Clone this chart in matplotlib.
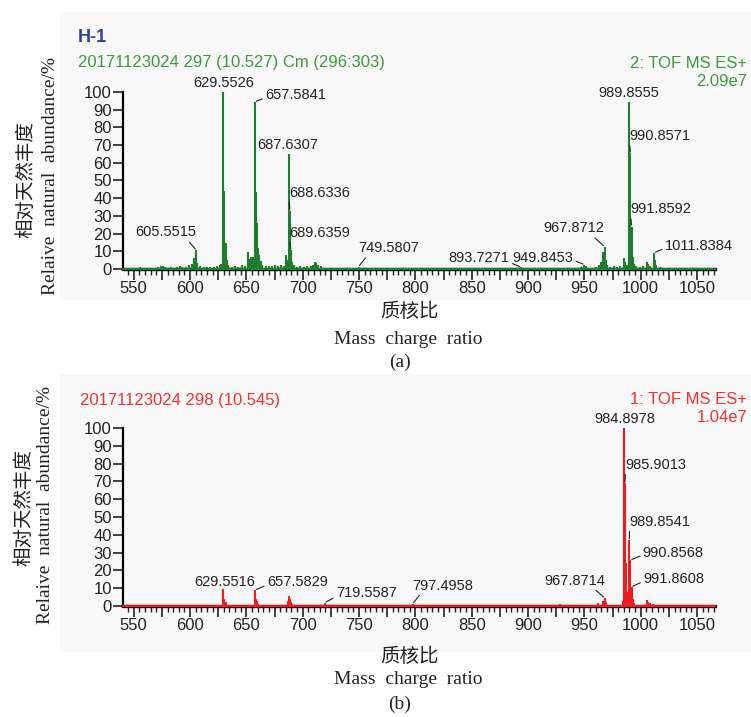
import matplotlib
matplotlib.use("Agg")
import matplotlib.pyplot as plt
from matplotlib.patches import Rectangle
from matplotlib.ticker import MultipleLocator
import numpy as np

# ---------------- data ----------------
top_mz = [553, 556, 561, 566, 572, 574, 576, 578, 583, 588, 591, 593, 596, 599,
          601.5, 603.6, 605.55, 606.55, 609, 612, 615, 618, 621, 624, 626.5, 627.5,
          629.55, 630.55, 631.55, 632.55, 634, 637, 640, 643, 646, 649,
          651.2, 652.5, 654.5, 656.0, 657.58, 658.58, 659.6, 660.6, 661.6, 662.6,
          664, 667, 670, 673, 675, 678, 681, 683, 685.6, 686.6, 687.63, 688.63,
          689.64, 690.64, 692, 695, 698, 701, 704, 707, 709, 711, 712, 714, 716,
          720, 726, 735, 749.58, 760, 780, 800, 830, 860, 893.73, 910, 925, 940,
          947, 949.85, 951, 955, 960, 963, 965, 966.87, 967.87, 968.87, 970, 973,
          976, 979, 982, 984.9, 985.9, 987.5, 989.86, 990.86, 991.86, 992.86,
          993.9, 996, 999, 1002, 1005.3, 1006.3, 1008, 1011.84, 1012.84, 1013.84,
          1017, 1022, 1030]
top_int = [0.8, 1.2, 0.8, 0.7, 1.4, 1.7, 1.5, 1.3, 0.9, 1.2, 1.6, 1.4, 1.0, 2.0,
           2.8, 6.0, 10.7, 3.5, 1.5, 1.2, 1.0, 1.3, 1.1, 1.5, 2.5, 3.0,
           100, 44.2, 14.5, 5.0, 2.0, 1.2, 1.5, 1.3, 2.0, 1.5,
           9.8, 5.5, 7.0, 6.5, 94.5, 43.7, 25.8, 11.7, 8.0, 4.5,
           2.5, 1.6, 1.8, 1.5, 2.0, 1.6, 2.2, 1.8, 7.9, 5.0, 65, 33,
           10.7, 4.0, 2.0, 1.4, 1.6, 1.2, 1.5, 1.8, 2.5, 4.0, 3.2, 2.0, 1.5,
           0.8, 0.6, 0.5, 1.3, 0.4, 0.4, 0.3, 0.4, 0.3, 1.0, 0.4, 0.6, 0.8,
           1.2, 2.5, 1.5, 0.8, 1.2, 2.0, 4.0, 9.8, 12.6, 5.0, 2.0, 1.2,
           1.5, 1.3, 1.6, 6.0, 4.0, 2.0, 94.5, 65.4, 24.0, 7.0,
           3.0, 1.5, 1.2, 1.5, 4.0, 3.0, 1.5, 9.2, 5.0, 2.0,
           1.0, 0.8, 0.5]

bot_mz = [560, 600, 620, 629.55, 630.55, 631.55, 640, 657.58, 658.58, 659.6, 660.6,
          686.6, 687.6, 688.6, 689.6, 690.6, 700, 719.56, 740, 797.50, 850, 900,
          928.4, 950, 962.4, 966.9, 967.87, 968.9, 975, 983.9, 984.90, 985.90,
          986.90, 987.9, 988.9, 989.85, 990.86, 991.86, 992.86, 994, 1005.5,
          1006.5, 1008, 1011, 1020]
bot_int = [0.3, 0.4, 0.5, 9.4, 3.8, 2.0, 0.5, 9.0, 3.8, 2.6, 1.2,
           2.6, 5.6, 3.8, 2.0, 1.0, 0.5, 1.9, 0.3, 1.2, 0.3, 0.3,
           1.0, 0.4, 1.9, 2.6, 4.5, 2.0, 0.6, 3.0, 100, 69,
           24, 8, 5, 37, 25.8, 10.8, 4, 1.5, 3.4,
           2.5, 1.5, 1.0, 0.4]

top_labels = ["629.5526", "657.5841", "687.6307", "688.6336", "689.6359", "605.5515",
              "749.5807", "893.7271", "949.8453", "967.8712", "989.8555", "990.8571",
              "991.8592", "1011.8384"]
bot_labels = ["984.8978", "985.9013", "989.8541", "990.8568", "991.8608", "967.8714",
              "797.4958", "719.5587", "657.5829", "629.5516"]

x_ticks = [550, 575, 600, 625, 650, 675, 700, 725, 750, 775, 800, 825, 850, 875,
           900, 925, 950, 975, 1000, 1025, 1050]
x_ticklabels = ["550", "", "600", "", "650", "", "700", "", "750", "", "800", "",
                "850", "", "900", "", "950", "", "1000", "", "1050"]
y_ticks = [0, 10, 20, 30, 40, 50, 60, 70, 80, 90, 100]

top_header = "20171123024 297 (10.527) Cm (296:303)"
top_mode = "2: TOF MS ES+"
top_scale = "2.09e7"
bot_header = "20171123024 298 (10.545)"
bot_mode = "1: TOF MS ES+"
bot_scale = "1.04e7"

# ---------------- layout (pixel offsets for labels) ----------------
# (dx, dy, relpos or None)
top_lab_layout = [(0, 9.3, None), (40.6, 6.7, (0, 0.3)), (-0.8, 9, None),
                  (29.6, 17.7, (0, 0)), (29, 17, (0, 0)), (-30.7, 17.6, (0.85, 0)),
                  (30.2, 18.4, (0.15, 0)), (-41.8, 9, (1, 0.2)), (-41.5, 6.6, (1, 0.35)),
                  (-30.8, 18.4, (0.8, 0)), (-0.3, 9, None), (29.6, 17.3, (0, 0)),
                  (29.7, 17.4, (0, 0)), (44.7, 6.6, (0, 0.35))]
bot_lab_layout = [(1.1, 8.7, None), (31.2, 18.4, (0, 0)), (30.7, 18.3, (0, 0)),
                  (42.9, 7.3, (0, 0.35)), (42.1, 7.4, (0, 0.35)), (-29.8, 17.4, (0.8, 0)),
                  (30.4, 18.3, (0.15, 0)), (41.7, 9.4, (0, 0.25)), (42.3, 7.6, (0, 0.3)),
                  (1.4, 7.6, None)]

W, H = 751, 717
GREEN_TXT = "#3d9a3b"
GREEN = "#1f7d2f"
RED_TXT = "#f03232"
RED = "#ee1c1c"
NAVY = "#2f3f93"
INK = "#222222"
SANS = ["Liberation Sans", "DejaVu Sans"]
SERIF = ["Liberation Serif", "DejaVu Serif"]
CJK = ["Noto Sans CJK SC", "DejaVu Sans"]

fig = plt.figure(figsize=(W / 100, H / 100), dpi=100)
fig.patch.set_facecolor("white")


def fx(px):
    return px / W


def fy(py):
    return 1 - py / H


# light grey panel backgrounds
fig.add_artist(Rectangle((fx(60), fy(300)), fx(W - 60), (300 - 12) / H,
                         transform=fig.transFigure, facecolor="#f8f8f8",
                         edgecolor="none", zorder=-10))
fig.add_artist(Rectangle((fx(60), fy(652)), fx(W - 60), (652 - 374) / H,
                         transform=fig.transFigure, facecolor="#f8f8f8",
                         edgecolor="none", zorder=-10))

xlim = (540.5, 1065.9)


def make_axes(top_px, bot_px):
    ax = fig.add_axes([fx(123), fy(bot_px), fx(715 - 123), (bot_px - top_px) / H])
    ax.set_facecolor("none")
    ax.set_xlim(*xlim)
    ax.set_ylim(0, 100)
    for s in ["top", "right"]:
        ax.spines[s].set_visible(False)
    ax.spines["left"].set_linewidth(1.6)
    ax.spines["bottom"].set_linewidth(2.4)
    ax.set_xticks(x_ticks)
    ax.set_xticklabels(x_ticklabels)
    ax.xaxis.set_minor_locator(MultipleLocator(5))
    ax.set_yticks(y_ticks)
    ax.set_yticklabels([str(t) for t in y_ticks])
    ax.tick_params(axis="x", which="major", direction="out", length=8, width=1.2,
                   pad=1, labelsize=12, color=INK)
    ax.tick_params(axis="x", which="minor", direction="out", length=4.5, width=1.0,
                   color=INK)
    ax.tick_params(axis="y", which="major", direction="out", length=7, width=1.2,
                   pad=1, labelsize=12, color=INK)
    for lab in ax.get_xticklabels() + ax.get_yticklabels():
        lab.set_fontfamily(SANS)
        lab.set_color(INK)
    return ax


def draw_spectrum(ax, mz, inten, color):
    ax.vlines(mz, 0, inten, colors=color, linewidth=1.5, zorder=3, clip_on=False)
    ax.plot(list(xlim), [0, 0], color=color, linewidth=1.6, zorder=4, clip_on=False)


def draw_labels(ax, labels, layout, mz, inten):
    mz = np.asarray(mz)
    for text, (dx, dy, rp) in zip(labels, layout):
        v = float(text)
        i = int(np.argmin(np.abs(mz - v)))
        tip = (mz[i], inten[i])
        kw = dict(xy=tip, xytext=(dx, dy), textcoords="offset pixels",
                  ha="center", va="center", fontsize=10.5, color=INK,
                  family=SANS, zorder=5, annotation_clip=False)
        if rp is not None:
            kw["arrowprops"] = dict(arrowstyle="-", color=INK, lw=0.8,
                                    shrinkA=0, shrinkB=1, relpos=rp)
        ax.annotate(text, **kw)


ax1 = make_axes(92, 269)
draw_spectrum(ax1, top_mz, top_int, GREEN)
draw_labels(ax1, top_labels, top_lab_layout, top_mz, top_int)

ax2 = make_axes(428, 606)
draw_spectrum(ax2, bot_mz, bot_int, RED)
draw_labels(ax2, bot_labels, bot_lab_layout, bot_mz, bot_int)

# headers
fig.text(fx(78), fy(38), "H-1", color=NAVY, fontsize=13, fontweight="bold",
         family=SANS, ha="left", va="center")
fig.text(fx(78), fy(63), top_header, color=GREEN_TXT, fontsize=12, family=SANS,
         ha="left", va="center")
fig.text(fx(747), fy(63), top_mode, color=GREEN_TXT, fontsize=12, family=SANS,
         ha="right", va="center")
fig.text(fx(747), fy(82), top_scale, color=GREEN_TXT, fontsize=12, family=SANS,
         ha="right", va="center")
fig.text(fx(80), fy(400), bot_header, color=RED_TXT, fontsize=12, family=SANS,
         ha="left", va="center")
fig.text(fx(747), fy(400), bot_mode, color=RED_TXT, fontsize=12, family=SANS,
         ha="right", va="center")
fig.text(fx(747), fy(418), bot_scale, color=RED_TXT, fontsize=12, family=SANS,
         ha="right", va="center")

# y axis labels
for cy_cjk, cy_en, x_cjk, x_en in [(180, 176, 26, 51), (507, 505, 24, 46)]:
    fig.text(fx(x_cjk), fy(cy_cjk), "相对天然丰度", rotation=90, family=CJK,
             fontsize=14, ha="center", va="center", color=INK)
    fig.text(fx(x_en), fy(cy_en), "Relaive  natural  abundance/%", rotation=90,
             family=SERIF, fontsize=14, ha="center", va="center", color=INK)

# x axis labels
for y_cjk, y_en, y_cap, cap in [(311, 339, 362, "(a)"), (656, 680, 704, "(b)")]:
    fig.text(fx(410), fy(y_cjk), "质核比", family=CJK, fontsize=14, ha="center",
             va="center", color=INK)
    fig.text(fx(408), fy(y_en), "Mass  charge  ratio", family=SERIF, fontsize=14,
             ha="center", va="center", color=INK)
    fig.text(fx(400), fy(y_cap), cap, family=SERIF, fontsize=14, ha="center",
             va="center", color=INK)

fig.savefig("out.png", dpi=100, facecolor="white")
